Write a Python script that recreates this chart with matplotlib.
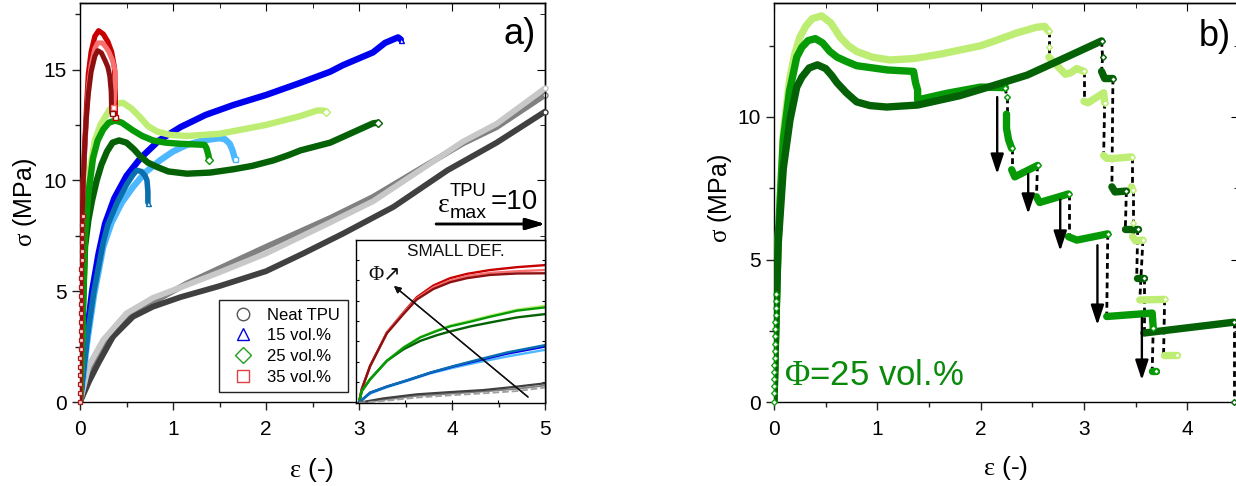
import matplotlib
matplotlib.use("Agg")
import matplotlib.pyplot as plt
from matplotlib.lines import Line2D

plt.rcParams["font.family"] = ["Liberation Sans", "DejaVu Sans"]
plt.rcParams["mathtext.fontset"] = "custom"
plt.rcParams["mathtext.rm"] = "Liberation Serif"
plt.rcParams["mathtext.sf"] = "Liberation Sans"
plt.rcParams["axes.linewidth"] = 1.0

W, H = 1236, 486

# panel a: neat TPU
tpu1_x = [0, .1, .197, .355, .57, .785, 1.08, 1.5, 2, 2.4, 2.83, 3.37, 3.95, 4.48, 5]
tpu1_y = [0, .95, 1.75, 2.95, 3.85, 4.3, 4.73, 5.23, 5.9, 6.7, 7.6, 8.8, 10.45, 11.7, 13.1]
tpu2_x = [0, .06, .14, .29, .57, .785, 1.15, 1.5, 2, 2.69, 3.15, 3.69, 4.12, 4.48, 5]
tpu2_y = [0, .7, 1.6, 2.65, 3.95, 4.5, 5.35, 6.03, 7.0, 8.3, 9.25, 10.6, 11.67, 12.4, 13.85]
tpu3_x = [0, .04, .09, .25, .5, .785, 1.1, 1.5, 2, 2.69, 3.15, 3.69, 4.12, 4.48, 5]
tpu3_y = [0, .7, 1.6, 2.8, 4.0, 4.7, 5.2, 5.85, 6.7, 8.1, 9.05, 10.55, 11.75, 12.55, 14.15]

# panel a: 15 vol.%
blue_x = [0, .02, .07, .13, .2, .27, .37, .5, .65, .85, 1.08, 1.35, 1.65, 2, 2.37, 2.69, 2.83, 3.15, 3.28, 3.42, 3.45]
blue_y = [0, 1, 2.9, 5, 6.7, 8.05, 9.2, 10.2, 11, 11.8, 12.4, 12.95, 13.4, 13.85, 14.4, 14.9, 15.2, 15.77, 16.2, 16.45, 16.35]
ltblue_x = [0, .03, .08, .15, .25, .34, .45, .57, .7, .86, 1, 1.15, 1.32, 1.5, 1.56, 1.61, 1.64, 1.667]
ltblue_y = [0, 1, 2.8, 4.8, 7, 8.1, 9, 9.7, 10.35, 10.9, 11.3, 11.6, 11.8, 11.9, 11.85, 11.65, 11.35, 10.95]
mdblue_x = [0, .03, .08, .15, .25, .3, .4, .5, .57, .61, .66, .7, .72, .73, .73]
mdblue_y = [0, 1.1, 3, 5, 7.2, 8, 9, 9.8, 10.25, 10.45, 10.4, 10.2, 10, 9.5, 9]

# panel a: 25 vol.%
dkgreen_x = [0, .015, .03, .054, .09, .13, .18, .23, .29, .35, .42, .5, .58, .645, .73, .83, .95, 1.15, 1.4, 1.65, 1.85, 2.08, 2.25, 2.37, 2.69, 3.15, 3.2]
dkgreen_y = [0, 2, 4, 7, 8.2, 9.1, 10, 10.7, 11.3, 11.7, 11.8, 11.7, 11.4, 11.1, 10.8, 10.6, 10.4, 10.3, 10.35, 10.5, 10.65, 10.9, 11.15, 11.35, 11.7, 12.57, 12.6]
green_x = [0, .015, .03, .054, .09, .14, .19, .25, .31, .38, .45, .57, .67, .785, .92, 1.07, 1.34, 1.36, 1.38, 1.39]
green_y = [0, 2, 4, 7.5, 9.4, 11, 11.8, 12.3, 12.6, 12.7, 12.6, 12.25, 12, 11.8, 11.7, 11.65, 11.6, 11.45, 11.15, 10.9]
ltgreen_x = [0, .015, .03, .054, .11, .16, .22, .32, .39, .46, .55, .645, .73, .83, .97, 1.15, 1.5, 2, 2.37, 2.55, 2.62, 2.65]
ltgreen_y = [0, 2, 4, 7.5, 10.6, 11.8, 12.5, 13.2, 13.45, 13.5, 13.25, 12.85, 12.45, 12.2, 12.05, 12, 12.1, 12.5, 12.9, 13.15, 13.15, 13.1]

# panel a: 35 vol.%
red_x = [0, .01, .02, .035, .05, .07, .09, .12, .16, .2, .25, .3, .34, .37, .38, .38, .38]
red_y = [0, 4, 7.9, 10, 11.5, 13.3, 14.8, 15.8, 16.5, 16.75, 16.6, 16.25, 15.8, 15.1, 14.2, 13.5, 12.85]
ptred_x = [0, .01, .02, .035, .05, .07, .09, .12, .16, .19, .24, .28, .31, .35, .38, .38, .37, .36]
ptred_y = [0, 4, 7.9, 10, 11.3, 12.8, 14.2, 15.2, 15.95, 16.2, 16.2, 16, 15.8, 15.4, 14.9, 14.2, 13.7, 13.3]
dkred_x = [0, .01, .02, .035, .054, .07, .09, .12, .16, .19, .23, .27, .3, .32, .335, .34]
dkred_y = [0, 4, 7.9, 10, 11.8, 12.9, 13.9, 14.9, 15.6, 15.85, 15.75, 15.4, 15.1, 14.7, 14, 13.05]
red_rise_x = [0, 0, .002, .003, .004, .005, .006, .007, .008, .009, .01, .012, .013, .014, .015, .016, .018, .02, .022, .024, .026, .028]
red_rise_y = [0, .4, .8, 1.2, 1.6, 2, 2.4, 2.8, 3.2, 3.6, 4, 4.4, 4.8, 5.2, 5.6, 6, 6.4, 6.8, 7.2, 7.6, 8, 8.4]

# inset, small deformation
ins_red_x = [3, 3.03, 3.12, 3.3, 3.48, 3.62, 3.8, 3.98, 4.16, 4.41, 4.7, 5]
ins_red1_y = [0, .66, 1.8, 3.44, 4.43, 5.16, 5.74, 6.1, 6.31, 6.5, 6.64, 6.74]
ins_red2_y = [0, .66, 1.8, 3.44, 4.4, 5.1, 5.65, 5.98, 6.2, 6.36, 6.44, 6.5]
ins_red3_y = [0, .66, 1.8, 3.4, 4.35, 5.05, 5.57, 5.9, 6.1, 6.26, 6.33, 6.34]
ins_gr_x = [3, 3.03, 3.12, 3.3, 3.48, 3.66, 3.84, 3.98, 4.2, 4.41, 4.7, 5]
ins_gr1_y = [0, .57, 1.15, 2.05, 2.72, 3.22, 3.55, 3.78, 4.02, 4.26, 4.56, 4.75]
ins_gr2_y = [0, .57, 1.15, 2.05, 2.7, 3.2, 3.52, 3.74, 3.97, 4.21, 4.51, 4.67]
ins_gr3_y = [0, .57, 1.15, 2.05, 2.62, 3.03, 3.31, 3.49, 3.74, 3.93, 4.18, 4.34]
ins_bl_x = [3, 3.03, 3.12, 3.3, 3.52, 3.77, 4.02, 4.3, 4.59, 5]
ins_bl1_y = [0, .13, .49, .79, 1.1, 1.48, 1.8, 2.13, 2.46, 2.82]
ins_bl2_y = [0, .13, .49, .79, 1.1, 1.47, 1.78, 2.09, 2.4, 2.75]
ins_bl3_y = [0, .13, .45, .76, 1.07, 1.44, 1.72, 2.0, 2.26, 2.59]
ins_gy_x = [3, 3.26, 3.62, 3.98, 4.34, 4.7, 5]
ins_gy1_y = [0, .21, .41, .52, .62, .79, .95]
ins_gy2_y = [0, .08, .25, .36, .46, .57, .74]
ins_gy3_y = [0, .14, .33, .44, .55, .68, .84]

# panel b: each series is a list of (x, y) loading segments
b_light = [
    ([0, .02, .04, .09, .15, .2, .25, .31, .37, .46, .55, .64, .72, .8, .95, 1.12, 1.35, 1.6, 2, 2.12, 2.35, 2.54, 2.62, 2.66],
     [0, 3, 5.7, 9.4, 11.3, 12.2, 12.8, 13.2, 13.45, 13.55, 13.3, 12.8, 12.5, 12.3, 12.1, 12, 12.05, 12.2, 12.5, 12.65, 12.95, 13.15, 13.18, 13.0]),
    ([2.66], [12.45]),
    ([2.66, 2.74, 2.82, 2.87, 2.93, 3.0], [12.1, 11.8, 11.5, 11.55, 11.7, 11.6]),
    ([3.0, 3.04, 3.19, 3.2], [10.55, 10.5, 10.85, 10.5]),
    ([3.19, 3.22, 3.3, 3.46], [8.65, 8.55, 8.55, 8.6]),
    ([3.46, 3.47], [7.55, 7.45]),
    ([3.47], [6.28]),
    ([3.47, 3.5, 3.57], [5.8, 5.65, 5.68]),
    ([3.54, 3.78], [3.58, 3.6]),
    ([3.77, 3.9], [1.65, 1.65]),
]
b_green = [
    ([0, .02, .04, .09, .15, .22, .27, .33, .4, .47, .54, .61, .7, .8, 1.1, 1.35, 1.36, 1.37, 1.39, 1.39, 1.67, 2, 2.24],
     [0, 3, 5.7, 9.2, 10.9, 12.1, 12.45, 12.68, 12.75, 12.6, 12.3, 12.1, 11.95, 11.8, 11.65, 11.6, 11.4, 11.2, 10.95, 10.6, 10.83, 11.05, 11.03]),
    ([2.25], [10.7]),
    ([2.25, 2.25, 2.27, 2.3], [10.1, 9.6, 9.2, 8.9]),
    ([2.3, 2.33, 2.55], [8.15, 7.9, 8.3]),
    ([2.54, 2.57, 2.85], [7.2, 7.0, 7.3]),
    ([2.85, 2.93, 3.23], [5.8, 5.68, 5.9]),
    ([3.22, 3.66, 3.67], [3.0, 3.12, 2.6]),
    ([3.66, 3.7], [1.1, 1.1]),
]
b_dark = [
    ([0, .02, .04, .09, .155, .22, .27, .34, .42, .5, .56, .61, .7, .8, .93, 1.09, 1.39, 1.8, 2.12, 2.45, 2.77, 3.17],
     [0, 3, 5.5, 8.2, 9.9, 11.05, 11.4, 11.72, 11.83, 11.7, 11.45, 11.2, 10.85, 10.53, 10.4, 10.35, 10.42, 10.75, 11.1, 11.47, 12, 12.67]),
    ([3.18], [12.1]),
    ([3.17, 3.2, 3.28], [11.6, 11.35, 11.35]),
    ([3.27, 3.3, 3.41], [7.55, 7.37, 7.4]),
    ([3.4, 3.52], [6.07, 6.07]),
    ([3.51, 3.58], [4.35, 4.35]),
    ([3.58, 4.45], [2.42, 2.8]),
    ([4.45], [0]),
]
b_rise_x = [0, 0, 0, .002, .003, .004, .005, .006, .008, .01, .012, .014, .016, .018, .02, .022]
b_rise_y = [0, .3, .55, .8, 1.05, 1.3, 1.55, 1.8, 2.05, 2.3, 2.55, 2.8, 3.05, 3.3, 3.55, 3.8]
drop_x = [2.16, 2.46, 2.77, 3.13, 3.56]
drop_top = [10.7, 8.0, 7.1, 5.5, 2.95]
drop_bot = [8.0, 6.6, 5.3, 2.7, 0.77]

GR_L, GR_M, GR_D = "#bdee73", "#069a06", "#056105"

fig = plt.figure(figsize=(W / 100, H / 100), dpi=100)


def add_px_axes(left, right, top, bottom):
    return fig.add_axes([left / W, 1 - bottom / H, (right - left) / W, (bottom - top) / H])


def fig_text(px, py, s, **kw):
    fig.text(px / W, 1 - py / H, s, ha="center", va="center", **kw)


def fig_arrow(start, end, **kw):
    fig.add_artist(plt.annotate(
        "", xy=(end[0] / W, 1 - end[1] / H), xytext=(start[0] / W, 1 - start[1] / H),
        xycoords="figure fraction", textcoords="figure fraction",
        arrowprops=dict(shrinkA=0, shrinkB=0, **kw),
    ))


def style_main(ax, xlim, ylim, xticks, yticks):
    ax.set_xlim(*xlim)
    ax.set_ylim(*ylim)
    ax.set_xticks(xticks)
    ax.set_yticks(yticks)
    ax.set_xticks([t + .5 for t in xticks if t + .5 < xlim[1]], minor=True)
    ax.set_yticks([t + 2.5 for t in yticks if t + 2.5 < ylim[1]], minor=True)
    ax.tick_params(which="major", length=6, width=1, labelsize=15, color="#222222")
    ax.tick_params(axis="x", which="major", pad=7)
    ax.tick_params(which="minor", length=3.5, width=1, color="#222222")
    sx = ax.secondary_xaxis("top")
    sx.set_xticks(ax.get_xticks())
    sx.set_xticks(ax.get_xticks(minor=True), minor=True)
    sx.tick_params(which="major", direction="in", length=6, labeltop=False)
    sx.tick_params(which="minor", direction="in", length=3.5)
    sy = ax.secondary_yaxis("right")
    sy.set_yticks(ax.get_yticks())
    sy.set_yticks(ax.get_yticks(minor=True), minor=True)
    sy.tick_params(which="major", direction="in", length=6, labelright=False)
    sy.tick_params(which="minor", direction="in", length=3.5)


def thick(ax, x, y, color, lw=4.6, end="o", z=3):
    ax.plot(x, y, color=color, lw=lw, solid_capstyle="round", solid_joinstyle="round", zorder=z)
    ax.plot(x[-1], y[-1], marker=end, ms=3.6, mfc="white", mec=color, mew=1, zorder=z + .5, clip_on=False)


# panel a
ax_a = add_px_axes(80, 545, 3, 402)
style_main(ax_a, (0, 5), (0, 18), [0, 1, 2, 3, 4, 5], [0, 5, 10, 15])
thick(ax_a, tpu2_x, tpu2_y, "#808080", lw=4.2, z=2)
thick(ax_a, tpu1_x, tpu1_y, "#404040", lw=4.2, z=2.1)
thick(ax_a, tpu3_x, tpu3_y, "#c8c8c8", lw=4.2, z=2.2)
thick(ax_a, ltblue_x, ltblue_y, "#4db8ff", end="s", z=3)
thick(ax_a, mdblue_x, mdblue_y, "#0a6fae", lw=4, end="^", z=3.2)
thick(ax_a, blue_x, blue_y, "#0000f0", end="^", z=3.1)
thick(ax_a, ltgreen_x, ltgreen_y, GR_L, end="D", z=4)
thick(ax_a, dkgreen_x, dkgreen_y, GR_D, end="D", z=4.1)
thick(ax_a, green_x, green_y, GR_M, end="D", z=4.2)
thick(ax_a, red_x, red_y, "#c80000", lw=3.8, end="s", z=5)
thick(ax_a, ptred_x, ptred_y, "#f87070", lw=3.6, end="s", z=5.1)
thick(ax_a, dkred_x, dkred_y, "#8c1010", lw=3.6, end="s", z=5.2)
ax_a.plot(red_rise_x, red_rise_y, ls="", marker="s", ms=3.2, mfc="#f4d8d8", mec="#b01818", mew=.9, zorder=5.4, clip_on=False)

legend_handles = [
    Line2D([], [], ls="", marker="o", ms=9, mfc="none", mec="#555555", label="Neat TPU"),
    Line2D([], [], ls="", marker="^", ms=9, mfc="none", mec="#0000e0", label="15 vol.%"),
    Line2D([], [], ls="", marker="D", ms=8, mfc="none", mec="#20a020", label="25 vol.%"),
    Line2D([], [], ls="", marker="s", ms=8, mfc="none", mec="#e04040", label="35 vol.%"),
]
ax_a.legend(
    handles=legend_handles,
    loc="lower left",
    bbox_to_anchor=((219 - 80) / 465, (402 - 392) / 399),
    borderaxespad=0,
    fontsize=12,
    frameon=True,
    fancybox=False,
    framealpha=1,
    edgecolor="#222222",
    labelspacing=.34,
    handletextpad=.45,
    borderpad=.45,
)

# inset
ax_in = add_px_axes(356, 545, 240, 402.7)
ax_in.set_xlim(2.968, 5)
ax_in.set_ylim(0, 7.97)
ax_in.set_xticks([3.5, 4, 4.5])
ax_in.set_yticks(range(1, 8))
ax_in.tick_params(axis="both", direction="in", length=2.5, width=.8, labelbottom=False, labelleft=False, right=True)
for y, c in [(ins_red1_y, "#c80000"), (ins_red2_y, "#f87070"), (ins_red3_y, "#8c1010")]:
    ax_in.plot(ins_red_x, y, color=c, lw=1.7)
for y, c in [(ins_gr1_y, GR_L), (ins_gr3_y, GR_D), (ins_gr2_y, GR_M)]:
    ax_in.plot(ins_gr_x, y, color=c, lw=1.7)
for y, c in [(ins_bl3_y, "#4db8ff"), (ins_bl2_y, "#0000f0"), (ins_bl1_y, "#0a6fae")]:
    ax_in.plot(ins_bl_x, y, color=c, lw=1.7)
ax_in.plot(ins_gy_x, ins_gy3_y, color="#808080", lw=1.3)
ax_in.plot(ins_gy_x, ins_gy1_y, color="#404040", lw=1.6)
ax_in.plot(ins_gy_x, ins_gy2_y, color="#a0a0a0", lw=1.3, ls="--")

# annotations in figure pixels, panel a
fig_text(456, 252, "SMALL DEF.", fontsize=12.4, color="#111111")
fig_text(385, 275, "Φ↗", fontsize=15, family=["Liberation Serif", "DejaVu Sans"], color="#111111")
fig_arrow((528, 397), (394, 286), arrowstyle="-|>", color="#111111", lw=1, mutation_scale=10)
fig_arrow((436, 224), (545, 224), arrowstyle="-|>,head_length=.85,head_width=.25", color="black", lw=1.8, mutation_scale=14)
fig_text(444, 205, "ε", fontsize=20, family=["Liberation Serif"])
fig_text(468, 192, "TPU", fontsize=13.3)
fig_text(468, 214, "max", fontsize=14)
fig_text(514, 202, "=10", fontsize=20)
fig_text(520, 35, "a)", fontsize=26)
fig_text(312, 470, r"$\mathrm{\varepsilon}$ (-)", fontsize=19)
fig_text(25, 202, r"$\mathrm{\sigma}$ (MPa)", fontsize=18, rotation=90)

# panel b
ax_b = add_px_axes(774, 1239, 3, 402)
style_main(ax_b, (0, 4.5), (0, 14), [0, 1, 2, 3, 4], [0, 5, 10])
for segs, c, z in [(b_light, GR_L, 3), (b_green, GR_M, 3.1), (b_dark, GR_D, 3.2)]:
    for i, (sx_, sy_) in enumerate(segs):
        if len(sx_) > 1:
            ax_b.plot(sx_, sy_, color=c, lw=5.3, solid_capstyle="round", solid_joinstyle="round", zorder=z)
        ax_b.plot(sx_[-1], sy_[-1], marker="D", ms=3, mfc="white", mec=c, mew=1, zorder=z + 2, clip_on=False)
        if i + 1 < len(segs):
            nx, ny = segs[i + 1]
            ax_b.plot([sx_[-1], nx[0]], [sy_[-1], ny[0]], color="black", lw=2, ls=(0, (2.1, 1.4)), zorder=2)
ax_b.plot(b_rise_x, b_rise_y, ls="", marker="D", ms=3, mfc="white", mec=GR_M, mew=.9, zorder=5.5, clip_on=False)
for x, top, bot in zip(drop_x, drop_top, drop_bot):
    ax_b.annotate("", xy=(x, bot), xytext=(x, top), zorder=6,
                  arrowprops=dict(arrowstyle="-|>,head_length=1.0,head_width=.33", color="black", lw=1.7,
                                  mutation_scale=12, shrinkA=0, shrinkB=0))
fig_text(874, 375, r"$\mathrm{\Phi}$=25 vol.%", fontsize=25, color="#0a8a0a")
fig_text(1215, 36, "b)", fontsize=26)
fig_text(1006, 468, r"$\mathrm{\varepsilon}$ (-)", fontsize=19)
fig_text(720, 198, r"$\mathrm{\sigma}$ (MPa)", fontsize=18, rotation=90)

fig.savefig("out.png", dpi=100)
